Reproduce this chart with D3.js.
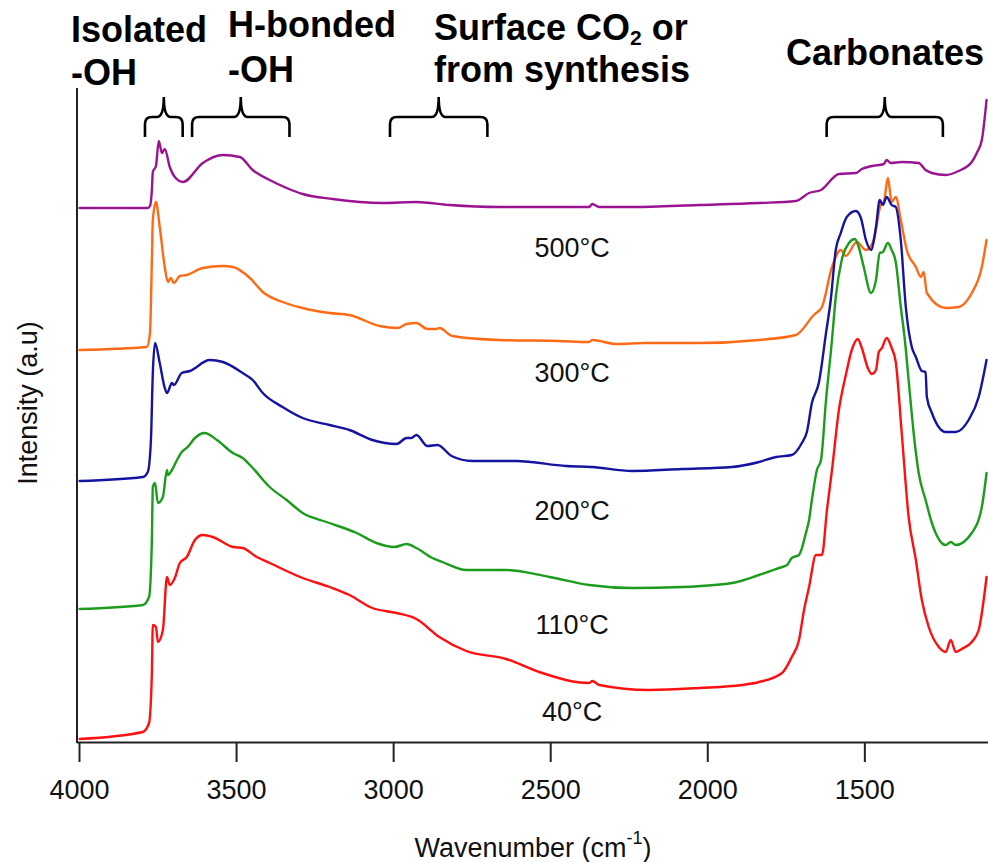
<!DOCTYPE html>
<html>
<head>
<meta charset="utf-8">
<script src="https://cdn.jsdelivr.net/npm/d3@7"></script>
<style>
  html, body { margin: 0; padding: 0; background: #fff; }
  svg { display: block; font-family: "Liberation Sans", Arial, sans-serif; }
</style>
</head>
<body>
<svg id="chart" width="988" height="862"></svg>
<script>
// DRIFTS spectra after treatment at different temperatures (offset for clarity)
// each point: [wavenumber (cm-1), intensity (a.u.)]
const spectrum500 = [
  [3998,5.34],[3781,5.34],[3774,5.36],[3768,5.52],[3765,5.70],[3755,5.76],[3746,6.01],
  [3736,5.89],[3727,5.93],[3711,5.75],[3695,5.65],[3669,5.60],[3606,5.79],[3542,5.87],
  [3488,5.85],[3447,5.72],[3393,5.62],[3339,5.54],[3288,5.48],[3193,5.43],[3034,5.39],
  [2926,5.40],[2821,5.37],[2662,5.35],[2376,5.35],[2366,5.38],[2344,5.35],[2239,5.35],
  [2026,5.37],[1835,5.39],[1718,5.41],[1676,5.49],[1638,5.52],[1581,5.68],[1527,5.69],
  [1508,5.73],[1476,5.76],[1438,5.78],[1429,5.82],[1416,5.79],[1381,5.80],[1327,5.79],
  [1305,5.72],[1285,5.69],[1241,5.67],[1200,5.71],[1158,5.80],[1142,5.89],[1126,6.02],
  [1111,6.42]
];
const spectrum300 = [
  [3998,3.92],[3784,3.95],[3774,4.09],[3768,4.82],[3765,5.22],[3755,5.40],[3743,5.15],
  [3727,4.75],[3717,4.60],[3708,4.64],[3698,4.59],[3679,4.66],[3657,4.67],[3606,4.74],
  [3542,4.76],[3510,4.75],[3456,4.64],[3415,4.50],[3352,4.40],[3288,4.34],[3202,4.29],
  [3139,4.27],[3043,4.16],[2986,4.14],[2957,4.18],[2926,4.19],[2891,4.13],[2862,4.13],
  [2853,4.14],[2811,4.06],[2662,4.02],[2471,4.01],[2376,4.00],[2366,4.02],[2290,3.98],
  [2195,3.99],[2026,3.99],[1835,4.02],[1718,4.07],[1661,4.27],[1635,4.35],[1603,4.75],
  [1575,4.92],[1559,4.86],[1524,5.00],[1495,4.92],[1470,5.02],[1448,5.37],[1438,5.40],
  [1425,5.64],[1413,5.40],[1400,5.45],[1384,5.22],[1365,4.92],[1336,4.75],[1320,4.65],
  [1311,4.70],[1301,4.49],[1241,4.34],[1200,4.35],[1158,4.49],[1126,4.75],[1111,5.02]
];
const spectrum200 = [
  [3998,2.61],[3797,2.65],[3781,2.70],[3771,3.02],[3765,3.69],[3758,3.99],[3743,3.79],
  [3727,3.54],[3720,3.49],[3704,3.59],[3698,3.57],[3673,3.69],[3647,3.71],[3584,3.82],
  [3542,3.80],[3479,3.69],[3447,3.62],[3415,3.49],[3352,3.35],[3288,3.24],[3202,3.17],
  [3139,3.12],[3066,3.02],[2989,2.98],[2957,3.04],[2942,3.04],[2926,3.07],[2891,2.96],
  [2859,2.97],[2814,2.86],[2748,2.81],[2608,2.81],[2449,2.76],[2366,2.75],[2239,2.71],
  [2080,2.73],[1921,2.75],[1835,2.80],[1781,2.85],[1731,2.87],[1699,2.99],[1683,3.10],
  [1667,3.39],[1645,3.59],[1622,4.09],[1607,4.42],[1591,4.92],[1575,5.09],[1556,5.25],
  [1527,5.31],[1511,5.24],[1495,5.02],[1479,4.92],[1463,5.15],[1451,5.42],[1441,5.37],
  [1429,5.45],[1413,5.37],[1400,5.35],[1384,5.02],[1368,4.35],[1349,3.95],[1336,3.85],
  [1317,3.71],[1305,3.70],[1301,3.45],[1285,3.29],[1241,3.10],[1209,3.10],[1168,3.22],
  [1136,3.45],[1111,3.82]
];
const spectrum110 = [
  [3998,1.33],[3797,1.37],[3777,1.45],[3768,2.02],[3765,2.55],[3758,2.59],[3749,2.39],
  [3733,2.45],[3720,2.72],[3717,2.67],[3704,2.72],[3688,2.82],[3673,2.90],[3654,2.95],
  [3631,3.04],[3600,3.09],[3561,3.02],[3510,2.89],[3479,2.84],[3447,2.74],[3393,2.55],
  [3339,2.42],[3288,2.29],[3212,2.20],[3116,2.09],[3053,1.99],[2996,1.95],[2957,1.98],
  [2926,1.94],[2875,1.84],[2843,1.80],[2767,1.72],[2640,1.72],[2503,1.65],[2376,1.57],
  [2239,1.54],[2080,1.55],[1921,1.59],[1835,1.67],[1772,1.74],[1746,1.77],[1731,1.84],
  [1708,1.87],[1686,2.09],[1676,2.22],[1667,2.42],[1651,2.72],[1638,2.82],[1622,3.42],
  [1603,4.02],[1591,4.45],[1572,4.82],[1549,4.99],[1530,5.03],[1518,4.95],[1502,4.75],
  [1479,4.49],[1463,4.62],[1451,4.89],[1441,4.90],[1425,4.99],[1413,4.92],[1400,4.80],
  [1384,4.35],[1371,4.02],[1359,3.62],[1343,3.09],[1327,2.69],[1305,2.42],[1285,2.19],
  [1241,1.97],[1225,2.00],[1209,1.97],[1158,2.09],[1126,2.35],[1111,2.69]
];
const spectrum40 = [
  [3998,0.03],[3797,0.10],[3777,0.19],[3768,0.69],[3765,1.17],[3755,1.15],[3749,1.00],
  [3733,1.12],[3720,1.65],[3711,1.57],[3695,1.64],[3679,1.79],[3657,1.85],[3631,2.02],
  [3606,2.07],[3574,2.05],[3510,1.95],[3479,1.94],[3434,1.85],[3393,1.79],[3288,1.64],
  [3202,1.55],[3139,1.47],[3066,1.34],[2989,1.29],[2926,1.23],[2853,1.05],[2767,0.91],
  [2640,0.83],[2535,0.70],[2376,0.59],[2366,0.61],[2344,0.57],[2185,0.52],[2026,0.54],
  [1889,0.57],[1835,0.60],[1762,0.69],[1731,0.85],[1708,1.02],[1692,1.32],[1676,1.55],
  [1654,1.87],[1635,1.87],[1619,2.32],[1603,2.72],[1581,3.32],[1559,3.67],[1540,3.92],
  [1521,4.03],[1508,3.94],[1489,3.74],[1476,3.68],[1463,3.72],[1454,3.90],[1444,3.94],
  [1429,4.04],[1413,3.94],[1400,3.80],[1381,3.09],[1359,2.25],[1336,1.82],[1317,1.42],
  [1295,1.15],[1263,0.95],[1241,0.90],[1225,1.02],[1209,0.90],[1190,0.93],[1158,1.00],
  [1136,1.12],[1111,1.65]
];

const seriesNames = ["500°C", "300°C", "200°C", "110°C", "40°C"];
const seriesData = [spectrum500, spectrum300, spectrum200, spectrum110, spectrum40];
const seriesColors = ["#9a1390", "#ff6a14", "#1414a0", "#1c9c1c", "#ff1010"];
const xTicks = [4000, 3500, 3000, 2500, 2000, 1500];

// spectral regions marked with braces: [from, to] in cm-1
const regionNames = [["Isolated", "-OH"], ["H-bonded", "-OH"], ["Surface CO2 or", "from synthesis"], ["Carbonates"]];
const regionSpans = [[3790, 3670], [3640, 3330], [3010, 2700], [1620, 1250]];

const svg = d3.select("#chart");
const plot = { left: 79, right: 990, top: 90, bottom: 742 };

const x = d3.scaleLinear().domain([4000, 1100]).range([plot.left, plot.right]);
const y = d3.scaleLinear().domain([0, 6.52]).range([plot.bottom, plot.top]);

// clip to plotting window
svg.append("defs").append("clipPath").attr("id", "plotClip")
  .append("rect").attr("x", plot.left - 2).attr("y", 0)
  .attr("width", plot.right - plot.left + 4).attr("height", plot.bottom);

// spectra
const line = d3.line()
  .x(d => x(d[0]))
  .y(d => y(d[1]))
  .curve(d3.curveMonotoneX);

svg.append("g").attr("clip-path", "url(#plotClip)")
  .selectAll("path")
  .data(seriesData)
  .join("path")
  .attr("d", line)
  .attr("fill", "none")
  .attr("stroke", (d, i) => seriesColors[i])
  .attr("stroke-width", 2.4)
  .attr("stroke-linejoin", "round")
  .attr("stroke-linecap", "round");

// temperature labels below each spectrum
const labelAt = { wn: 2430, level: [4.85, 3.60, 2.22, 1.08, 0.21] };
svg.append("g").selectAll("text")
  .data(seriesNames)
  .join("text")
  .attr("x", x(labelAt.wn))
  .attr("y", (d, i) => y(labelAt.level[i]))
  .attr("text-anchor", "middle")
  .attr("font-size", 27)
  .attr("fill", "#111")
  .text(d => d);

// x axis
const xAxis = d3.axisBottom(x)
  .tickValues(xTicks)
  .tickFormat(d3.format("d"))
  .tickSize(20)
  .tickSizeOuter(0)
  .tickPadding(18);

const gx = svg.append("g")
  .attr("transform", `translate(0,${plot.bottom})`)
  .call(xAxis);
gx.select(".domain").attr("stroke", "#222").attr("stroke-width", 2)
  .attr("d", `M${plot.left - 2},0.5H${plot.right}`);
gx.selectAll(".tick line").attr("stroke", "#222").attr("stroke-width", 2);
gx.selectAll(".tick text").attr("font-size", 27).attr("fill", "#111")
  .attr("font-family", "'Liberation Sans', Arial, sans-serif");

// y axis (line only, no ticks)
svg.append("line")
  .attr("x1", plot.left - 2).attr("x2", plot.left - 2)
  .attr("y1", plot.top - 2).attr("y2", plot.bottom + 1)
  .attr("stroke", "#222").attr("stroke-width", 2);

// axis titles
const xTitle = svg.append("text")
  .attr("x", 533).attr("y", 857)
  .attr("text-anchor", "middle")
  .attr("font-size", 27).attr("fill", "#111");
xTitle.append("tspan").text("Wavenumber (cm");
xTitle.append("tspan").attr("font-size", 18).attr("dy", -13).text("-1");
xTitle.append("tspan").attr("dy", 13).text(")");

svg.append("text")
  .attr("transform", "translate(37,403) rotate(-90)")
  .attr("text-anchor", "middle")
  .attr("font-size", 27).attr("fill", "#111")
  .text("Intensity (a.u)");

// region braces
const braceTop = 97, braceBar = 117, braceEnd = 137, r = 7;
function bracePath(x0, x1) {
  const xc = (x0 + x1) / 2;
  return `M${x0},${braceEnd} L${x0},${braceBar + r} Q${x0},${braceBar} ${x0 + r},${braceBar}` +
         ` L${xc - r},${braceBar} Q${xc},${braceBar} ${xc},${braceTop}` +
         ` Q${xc},${braceBar} ${xc + r},${braceBar} L${x1 - r},${braceBar}` +
         ` Q${x1},${braceBar} ${x1},${braceBar + r} L${x1},${braceEnd}`;
}
svg.append("g").selectAll("path")
  .data(regionSpans)
  .join("path")
  .attr("d", d => bracePath(x(d[0]), x(d[1])))
  .attr("fill", "none")
  .attr("stroke", "#000")
  .attr("stroke-width", 2.6);

// region headings
const heading = svg.append("g")
  .attr("font-size", 36).attr("font-weight", "bold").attr("fill", "#000");

function twoLine(xPos, y1, y2, l1, l2) {
  heading.append("text").attr("x", xPos).attr("y", y1).text(l1);
  heading.append("text").attr("x", xPos).attr("y", y2).text(l2);
}
twoLine(71, 42, 85, regionNames[0][0], regionNames[0][1]);
twoLine(228, 37, 82, regionNames[1][0], regionNames[1][1]);

const co2 = heading.append("text").attr("x", 434).attr("y", 40);
co2.append("tspan").text("Surface CO");
co2.append("tspan").attr("font-size", 21).attr("dy", 5).text("2");
co2.append("tspan").attr("dy", -5).text(" or");
heading.append("text").attr("x", 434).attr("y", 82).text(regionNames[2][1]);

heading.append("text").attr("x", 786).attr("y", 65).text(regionNames[3][0]);
</script>
</body>
</html>
